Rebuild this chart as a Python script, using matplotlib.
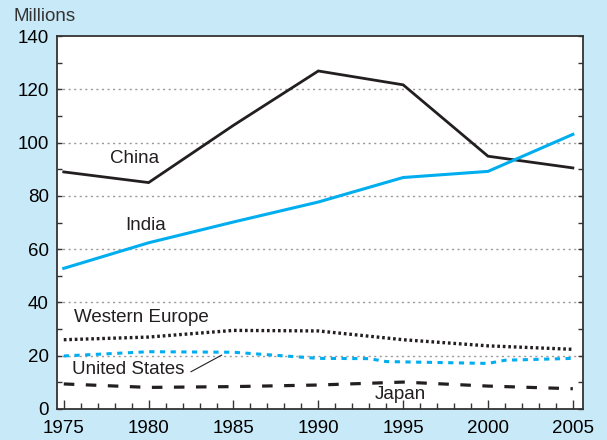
import numpy as np
import matplotlib
matplotlib.use("Agg")
import matplotlib.pyplot as plt
from matplotlib.ticker import MultipleLocator

plt.rcParams["font.family"] = ["Liberation Sans", "DejaVu Sans"]

# ---- values (millions) ----
years = [1975, 1980, 1985, 1990, 1995, 2000, 2005]
china = [89.0, 85.0, 106.5, 126.9, 121.7, 94.9, 90.5]
india = [52.8, 62.4, 70.2, 77.7, 86.9, 89.2, 103.1]
w_europe = [26.0, 27.0, 29.5, 29.3, 26.0, 23.7, 22.4]
us_years = [1975, 1980, 1985, 1990, 1993, 1994, 2000, 2001, 2005]
us = [19.9, 21.5, 21.3, 19.0, 18.9, 17.8, 17.1, 18.3, 19.0]
japan = [9.4, 8.1, 8.4, 9.0, 10.1, 8.6, 7.6]

BG = "#c8e9f8"
BLUE = "#00aeef"
BLACK = "#231f20"

fig = plt.figure(figsize=(6.07, 4.40), dpi=100, facecolor=BG)
ax = fig.add_axes([0.0939, 0.0705, 0.8666, 0.8475])
ax.set_facecolor("white")

ax.plot(years, china, color=BLACK, lw=2.0, solid_joinstyle="miter")
ax.plot(years, india, color=BLUE, lw=2.2)
ax.plot(years, w_europe, color=BLACK, lw=2.4, linestyle=(0, (0.8, 0.85)))
ax.plot(us_years, us, color=BLUE, lw=2.2, linestyle=(0, (1.7, 1.8)))
ax.plot(years, japan, color=BLACK, lw=2.3, linestyle=(0, (3.3, 3.6)))

ax.set_xlim(1974.6, 2005.6)
ax.set_ylim(0, 140)
ax.yaxis.set_major_locator(MultipleLocator(20))
ax.yaxis.set_minor_locator(MultipleLocator(10))
ax.xaxis.set_major_locator(MultipleLocator(5))
ax.xaxis.set_minor_locator(MultipleLocator(1))

for y in range(20, 140, 20):
    ax.axhline(y, color="#999999", lw=1.0, linestyle=(0, (1.5, 2.5)), zorder=0)

fs = 13.5
ax.tick_params(axis="y", which="both", direction="in", left=True, right=True,
               length=3.6, width=1.0, color="#333333", labelsize=fs, pad=6)
ax.tick_params(axis="x", which="major", direction="in", length=6.8, width=1.0,
               color="#333333", labelsize=fs, pad=8)
ax.tick_params(axis="x", which="minor", direction="in", length=4.3, width=1.0,
               color="#333333")
for s in ax.spines.values():
    s.set_color("#333333")
    s.set_linewidth(1.3)

ax.text(1977.75, 94.2, "China", fontsize=fs, va="center", color=BLACK)
ax.text(1978.65, 69.0, "India", fontsize=fs, va="center", color=BLACK)
ax.text(1975.6, 34.4, "Western Europe", fontsize=fs, va="center", color=BLACK)
ax.text(1975.5, 14.9, "United States", fontsize=fs, va="center", color=BLACK)
ax.plot([1982.5, 1984.3], [14.0, 20.2], color=BLACK, lw=0.8)
ax.text(1993.3, 5.6, "Japan", fontsize=fs, va="center", color=BLACK)

fig.text(0.023, 0.962, "Millions", fontsize=13.5, va="center", color="#333333")

fig.savefig("out.png", dpi=100, facecolor=BG)
